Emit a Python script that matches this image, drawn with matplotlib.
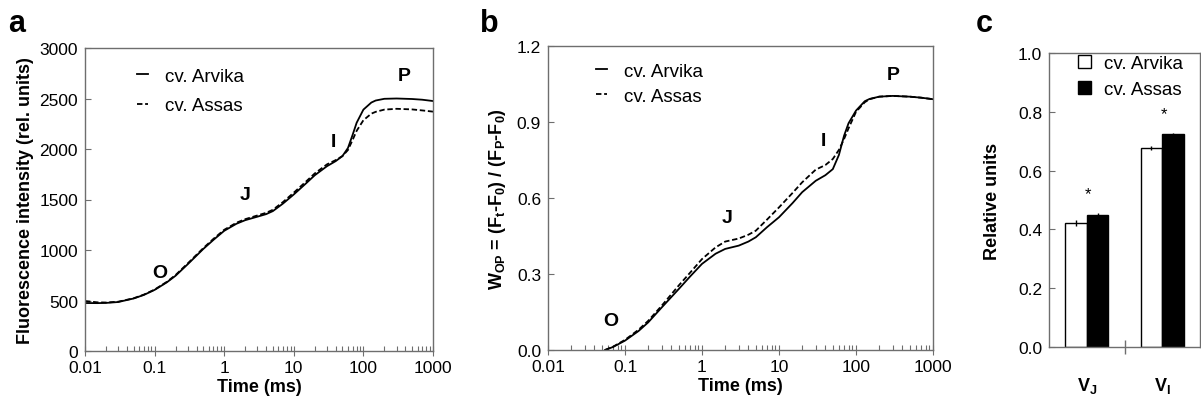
import matplotlib
matplotlib.use('Agg')
import matplotlib.pyplot as plt
from matplotlib.ticker import LogLocator, FixedLocator, NullFormatter

plt.rcParams['font.family'] = ['Liberation Sans', 'DejaVu Sans']
plt.rcParams['mathtext.fontset'] = 'custom'
plt.rcParams['mathtext.rm'] = 'Liberation Sans'
plt.rcParams['mathtext.bf'] = 'Liberation Sans:bold'

# panel a: fluorescence transient (rel. units)
t_a = [0.01, 0.015, 0.02, 0.03, 0.05, 0.07, 0.1, 0.15, 0.2, 0.3, 0.5, 0.7, 1, 1.5, 2, 3, 4, 5, 7,
       10, 15, 20, 30, 40, 50, 60, 70, 80, 100, 130, 150, 200, 300, 500, 700, 1000]
arvika_a = [475, 474, 476, 485, 520, 555, 605, 680, 745, 860, 1010, 1100, 1190, 1260, 1295, 1330, 1355,
            1385, 1460, 1550, 1660, 1740, 1830, 1880, 1930, 2010, 2140, 2260, 2390, 2460, 2480, 2497,
            2500, 2495, 2488, 2475]
assas_a = [495, 482, 480, 488, 522, 558, 608, 685, 752, 868, 1018, 1110, 1200, 1270, 1305, 1342, 1368,
           1398, 1475, 1568, 1678, 1758, 1848, 1890, 1930, 1990, 2090, 2180, 2285, 2350, 2368, 2390,
           2398, 2392, 2382, 2370]

# panel b: relative variable fluorescence W_OP
t_b = [0.055, 0.07, 0.1, 0.15, 0.2, 0.3, 0.5, 0.7, 1, 1.5, 2, 3, 4, 5, 7, 10, 15, 20, 30, 40, 50,
       60, 70, 80, 100, 130, 150, 200, 300, 500, 700, 1000]
arvika_b = [0.0, 0.012, 0.037, 0.075, 0.109, 0.168, 0.241, 0.29, 0.34, 0.38, 0.399, 0.412, 0.428,
            0.445, 0.485, 0.524, 0.58, 0.623, 0.668, 0.69, 0.714, 0.77, 0.846, 0.895, 0.945, 0.982,
            0.991, 1.0, 1.003, 1.0, 0.996, 0.99]
assas_b = [0.0, 0.013, 0.04, 0.08, 0.115, 0.175, 0.255, 0.305, 0.359, 0.405, 0.428, 0.44, 0.455,
           0.471, 0.515, 0.563, 0.62, 0.662, 0.712, 0.73, 0.754, 0.79, 0.833, 0.875, 0.94, 0.978,
           0.99, 1.0, 1.003, 1.0, 0.996, 0.99]

# panel c: V_J and V_I
params = ['V$_\\mathbf{J}$', 'V$_\\mathbf{I}$']
arvika_c = [0.422, 0.676]
assas_c = [0.45, 0.724]
arvika_err = [0.010, 0.006]
assas_err = [0.007, 0.005]
signif = ['*', '*']

spine_col = '#6e6e6e'
tick_fs = 12.5
label_fs = 13
leg_fs = 13.5

fig = plt.figure(figsize=(12.01, 4.02), dpi=100)


def style_log_axis(ax):
    ax.set_xscale('log')
    ax.set_xlim(0.01, 1000)
    ax.xaxis.set_minor_locator(LogLocator(base=10, subs=range(2, 10), numticks=20))
    ax.xaxis.set_minor_formatter(NullFormatter())
    ax.set_xticks([0.01, 0.1, 1, 10, 100, 1000])
    ax.set_xticklabels(['0.01', '0.1', '1', '10', '100', '1000'])
    ax.tick_params(axis='x', which='major', direction='inout', length=7, width=0.8,
                   color=spine_col, labelsize=tick_fs, pad=3)
    ax.tick_params(axis='x', which='minor', direction='in', length=3.5, width=0.8, color=spine_col)
    ax.tick_params(axis='y', which='major', direction='in', length=4, width=0.8,
                   color=spine_col, labelsize=tick_fs, pad=5)
    for s in ax.spines.values():
        s.set_color(spine_col)
        s.set_linewidth(1.0)
    ax.set_xlabel('Time (ms)', fontsize=label_fs, fontweight='bold', labelpad=2)


# ---- a ----
ax1 = fig.add_axes([85 / 1201, 50 / 402, 348 / 1201, 303 / 402])
ax1.plot(t_a, arvika_a, color='black', lw=1.3, label='cv. Arvika')
ax1.plot(t_a, assas_a, color='black', lw=1.3, ls=(0, (3, 1.5)), label='cv. Assas')
style_log_axis(ax1)
ax1.set_ylim(0, 3000)
ax1.set_yticks(range(0, 3001, 500))
ax1.set_ylabel('Fluorescence intensity (rel. units)', fontsize=label_fs, fontweight='bold', labelpad=4)
for lab, x, y in [('O', 0.12, 777), ('J', 2.0, 1554), ('I', 37, 2072), ('P', 390, 2725)]:
    ax1.text(x, y, lab, fontsize=14, fontweight='bold', ha='center', va='center')
ax1.legend(loc='upper left', bbox_to_anchor=(0.1, 0.99), frameon=False, fontsize=leg_fs,
           handlelength=0.6, handletextpad=0.9, labelspacing=0.65)
fig.text(8 / 1201, 1 - 24 / 402, 'a', fontsize=22, fontweight='bold', va='center', ha='left')

# ---- b ----
ax2 = fig.add_axes([548 / 1201, 51 / 402, 385 / 1201, 304 / 402])
ax2.plot(t_b, arvika_b, color='black', lw=1.3, label='cv. Arvika')
ax2.plot(t_b, assas_b, color='black', lw=1.3, ls=(0, (3, 1.5)), label='cv. Assas')
style_log_axis(ax2)
ax2.set_ylim(0, 1.2)
ax2.set_yticks([0.0, 0.3, 0.6, 0.9, 1.2])
ax2.set_yticklabels(['0.0', '0.3', '0.6', '0.9', '1.2'])
ax2.set_ylabel('W$_{\\mathregular{OP}}$ = (F$_\\mathregular{t}$-F$_\\mathregular{0}$) / '
               '(F$_\\mathregular{P}$-F$_\\mathregular{0}$)', fontsize=label_fs, fontweight='bold',
               labelpad=6)
for lab, x, y in [('O', 0.065, 0.116), ('J', 2.1, 0.524), ('I', 37.6, 0.826), ('P', 305, 1.086)]:
    ax2.text(x, y, lab, fontsize=14, fontweight='bold', ha='center', va='center')
ax2.legend(loc='upper left', bbox_to_anchor=(0.08, 1.0), frameon=False, fontsize=leg_fs,
           handlelength=0.6, handletextpad=0.9, labelspacing=0.4)
fig.text(480 / 1201, 1 - 24 / 402, 'b', fontsize=22, fontweight='bold', va='center', ha='left')

# ---- c ----
ax3 = fig.add_axes([1049 / 1201, 54 / 402, 151 / 1201, 294 / 402])
pos = [0.5, 1.5]
w = 0.285
ax3.bar([p - w / 2 for p in pos], arvika_c, width=w, color='white', edgecolor='black', lw=1.0,
        yerr=arvika_err, error_kw=dict(ecolor='black', elinewidth=1.0, capsize=0), label='cv. Arvika')
ax3.bar([p + w / 2 for p in pos], assas_c, width=w, color='black', edgecolor='black', lw=1.0,
        yerr=assas_err, error_kw=dict(ecolor='black', elinewidth=1.0, capsize=0), label='cv. Assas')
for p, a, b, s in zip(pos, arvika_c, assas_c, signif):
    ax3.text(p + 0.02, max(a, b) + 0.07, s, fontsize=12, ha='center', va='center')
ax3.set_xlim(0, 2)
ax3.set_ylim(0, 1.0)
ax3.set_yticks([0.0, 0.2, 0.4, 0.6, 0.8, 1.0])
ax3.set_yticklabels(['0.0', '0.2', '0.4', '0.6', '0.8', '1.0'])
ax3.xaxis.set_major_locator(FixedLocator([1.0]))
ax3.xaxis.set_major_formatter(NullFormatter())
ax3.set_xticks(pos, minor=True)
ax3.set_xticklabels(params, minor=True, fontsize=13, fontweight='bold')
ax3.tick_params(axis='x', which='major', direction='inout', length=10, width=1.0, color=spine_col)
ax3.tick_params(axis='x', which='minor', length=0, pad=20)
ax3.tick_params(axis='y', which='major', direction='in', length=4, width=0.8,
                color=spine_col, labelsize=tick_fs, pad=5)
for s in ax3.spines.values():
    s.set_color(spine_col)
    s.set_linewidth(1.0)
ax3.set_ylabel('Relative units', fontsize=label_fs, fontweight='bold', labelpad=12)
ax3.legend(loc='upper left', bbox_to_anchor=(0.08, 1.05), frameon=False, fontsize=leg_fs,
           handlelength=0.7, handleheight=0.7, handletextpad=0.7, labelspacing=0.45)
fig.text(976 / 1201, 1 - 24 / 402, 'c', fontsize=22, fontweight='bold', va='center', ha='left')

fig.savefig('out.png', dpi=100)
